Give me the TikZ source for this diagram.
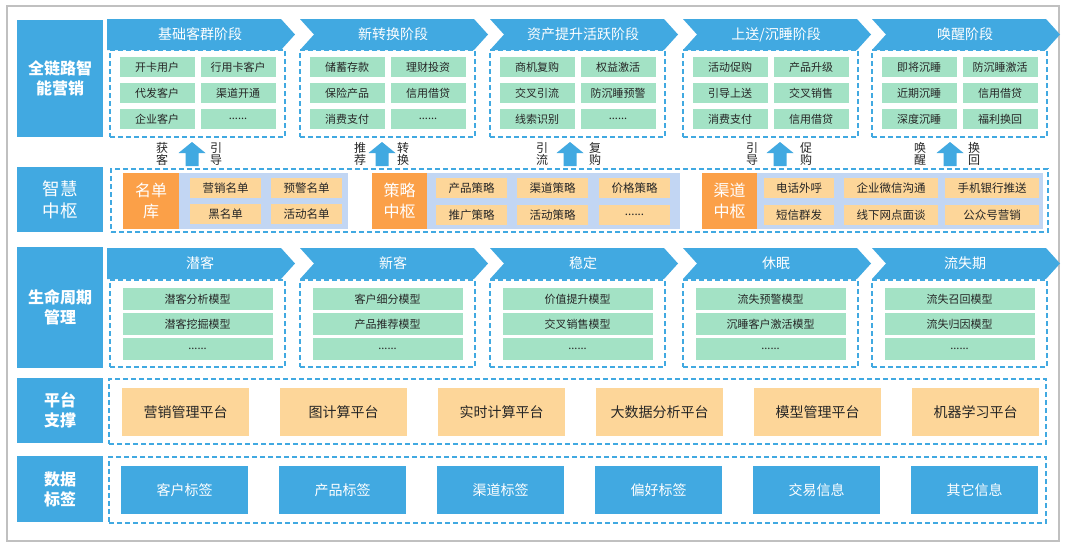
\documentclass[tikz,border=0pt]{standalone}
\usepackage{fontspec}
\setmainfont{Noto Sans CJK SC}
\definecolor{hblue}{RGB}{65,169,225}
\definecolor{cgreen}{RGB}{163,226,197}
\definecolor{cpeach}{RGB}{253,214,153}
\definecolor{corange}{RGB}{251,160,72}
\definecolor{cpanel}{RGB}{194,214,243}
\definecolor{gborder}{RGB}{192,192,192}
\newcommand{\sixdots}{......}
\tikzset{
  every node/.style={inner sep=0pt, outer sep=0pt},
  lbl/.style={fill=hblue, text=white, font=\fontsize{16}{20}\selectfont\bfseries, align=center},
  lblr/.style={fill=hblue, text=white, font=\fontsize{17.5}{22}\selectfont, align=center},
  htext/.style={text=white, font=\fontsize{14}{16}\selectfont},
  dbox/.style={draw=hblue, line width=1.8pt, dash pattern=on 5pt off 3pt},
  gcell/.style={fill=cgreen, text=black!85, font=\fontsize{11}{13}\selectfont},
  pcell/.style={fill=cpeach, text=black!85, font=\fontsize{11.5}{13}\selectfont},
  ocell/.style={fill=corange, text=white, font=\fontsize{16}{21}\selectfont, align=center},
  panel/.style={fill=cpanel},
  plat/.style={fill=cpeach, text=black!85, font=\fontsize{14}{16}\selectfont},
  tagc/.style={fill=hblue, text=white, font=\fontsize{14}{16}\selectfont},
  albl/.style={text=black!85, font=\fontsize{12}{12.5}\selectfont, align=center},
  uparrow/.style={fill=hblue}
}
% style, name, x, y (top-left), width, height, text
\newcommand{\bx}[7]{\node[#1, anchor=north west, minimum width=#5pt, minimum height=#6pt] (#2) at (#3,#4) {#7};}
% name, x, ytop, notch(0/1), text
\newcommand{\hdr}[5]{%
  \fill[hblue] (#2,#3) -- ++(174,0) -- ++(14,15.5) -- ++(-14,15.5) -- ++(-174,0) -- ++(14*#4,-15.5) -- cycle;
  \node[htext] (#1) at (#2+93,#3+15.5) {#5};}
% name, center x
\newcommand{\uparr}[2]{%
  \coordinate (#1-base) at (#2,166);
  \coordinate (#1-tip) at (#2,142);
  \fill[uparrow] ([xshift=-6.5pt]#1-base) -- ++(0,-13) -- ++(-7,0) -- (#1-tip) -- ++(13.5,11) -- ++(-7,0) -- ([xshift=6.5pt]#1-base) -- cycle;}
\begin{document}
\begin{tikzpicture}[x=1pt,y=-1pt]
\useasboundingbox (0,0) rectangle (1066,547);
\fill[white] (0,0) rectangle (1066,547);
\draw[gborder, line width=2pt] (7,6) rectangle (1059,541);

% ---------- left labels ----------
\bx{lbl}{L1}{17}{20}{86}{117}{全链路智\\能营销}
\bx{lblr}{L2}{17}{167}{86}{65}{智慧\\中枢}
\bx{lbl}{L3}{17}{247}{86}{121}{生命周期\\管理}
\bx{lbl}{L4}{17}{378}{86}{65}{平台\\支撑}
\bx{lbl}{L5}{17}{456}{86}{66}{数据\\标签}

% ---------- row 1: stages ----------
\hdr{h1}{107}{19}{0}{基础客群阶段}
\hdr{h2}{300}{19}{1}{新转换阶段}
\hdr{h3}{490}{19}{1}{资产提升活跃阶段}
\hdr{h4}{683}{19}{1}{上送/沉睡阶段}
\hdr{h5}{872}{19}{1}{唤醒阶段}
\foreach \i/\bxx/\a/\b/\c/\d/\e/\f in {
  1/110/开卡用户/行用卡客户/代发客户/渠道开通/企业客户/\sixdots,
  2/300/储蓄存款/理财投资/保险产品/信用借贷/消费支付/\sixdots,
  3/490/商机复购/权益激活/交叉引流/防沉睡预警/线索识别/\sixdots,
  4/683/活动促购/产品升级/引导上送/交叉销售/消费支付/信用借贷,
  5/872/即将沉睡/防沉睡激活/近期沉睡/信用借贷/深度沉睡/福利换回}{
  \bx{dbox}{s\i}{\bxx}{50}{175}{87}{}
  \bx{gcell}{s\i-a}{\bxx+9.5}{57}{75}{20}{\a}
  \bx{gcell}{s\i-b}{\bxx+90.5}{57}{75}{20}{\b}
  \bx{gcell}{s\i-c}{\bxx+9.5}{83}{75}{20}{\c}
  \bx{gcell}{s\i-d}{\bxx+90.5}{83}{75}{20}{\d}
  \bx{gcell}{s\i-e}{\bxx+9.5}{109}{75}{20}{\e}
  \bx{gcell}{s\i-f}{\bxx+90.5}{109}{75}{20}{\f}
}

% ---------- arrows between row 1 and row 2 ----------
\uparr{a1}{192}
\uparr{a2}{382}
\uparr{a3}{570}
\uparr{a4}{780}
\uparr{a5}{950}
\node[albl] (t1a) at (162,154) {获\\客};
\node[albl] (t1b) at (216,154) {引\\导};
\node[albl] (t2a) at (360,154) {推\\荐};
\node[albl] (t2b) at (403,154) {转\\换};
\node[albl] (t3a) at (542,154) {引\\流};
\node[albl] (t3b) at (595,154) {复\\购};
\node[albl] (t4a) at (752,154) {引\\导};
\node[albl] (t4b) at (806,154) {促\\购};
\node[albl] (t5a) at (920,154) {唤\\醒};
\node[albl] (t5b) at (974,154) {换\\回};

% ---------- row 2: hub ----------
\bx{dbox}{hub}{111}{169}{937}{63}{}
% 名单库
\bx{panel}{p1}{179}{173}{169}{56}{}
\bx{ocell}{o1}{123}{173}{56}{56}{名单\\库}
\bx{pcell}{n1}{190}{178}{71}{20}{营销名单}
\bx{pcell}{n2}{271}{178}{71}{20}{预警名单}
\bx{pcell}{n3}{190}{204}{71}{20}{黑名单}
\bx{pcell}{n4}{271}{204}{71}{20}{活动名单}
% 策略中枢
\bx{panel}{p2}{427}{173}{253}{56}{}
\bx{ocell}{o2}{372}{173}{55}{56}{策略\\中枢}
\bx{pcell}{m1}{436}{178}{71}{20}{产品策略}
\bx{pcell}{m2}{517}{178}{71}{20}{渠道策略}
\bx{pcell}{m3}{599}{178}{71}{20}{价格策略}
\bx{pcell}{m4}{436}{205}{71}{20}{推广策略}
\bx{pcell}{m5}{517}{205}{71}{20}{活动策略}
\bx{pcell}{m6}{599}{205}{71}{20}{\sixdots}
% 渠道中枢
\bx{panel}{p3}{757}{173}{286}{56}{}
\bx{ocell}{o3}{702}{173}{55}{56}{渠道\\中枢}
\bx{pcell}{k1}{764}{178}{70}{20}{电话外呼}
\bx{pcell}{k2}{844}{178}{94}{20}{企业微信沟通}
\bx{pcell}{k3}{945}{178}{94}{20}{手机银行推送}
\bx{pcell}{k4}{764}{205}{70}{20}{短信群发}
\bx{pcell}{k5}{844}{205}{94}{20}{线下网点面谈}
\bx{pcell}{k6}{945}{205}{94}{20}{公众号营销}

% ---------- row 3: lifecycle ----------
\hdr{g1}{107}{248}{0}{潜客}
\hdr{g2}{300}{248}{1}{新客}
\hdr{g3}{490}{248}{1}{稳定}
\hdr{g4}{683}{248}{1}{休眠}
\hdr{g5}{872}{248}{1}{流失期}
\foreach \i/\bxx/\a/\b in {
  1/110/潜客分析模型/潜客挖掘模型,
  2/300/客户细分模型/产品推荐模型,
  3/490/价值提升模型/交叉销售模型,
  4/683/流失预警模型/沉睡客户激活模型,
  5/872/流失召回模型/流失归因模型}{
  \bx{dbox}{q\i}{\bxx}{280}{175}{87}{}
  \bx{gcell}{q\i-a}{\bxx+12.5}{288}{150}{22}{\a}
  \bx{gcell}{q\i-b}{\bxx+12.5}{313}{150}{22}{\b}
  \bx{gcell}{q\i-c}{\bxx+12.5}{338}{150}{22}{\sixdots}
}

% ---------- row 4: platforms ----------
\bx{dbox}{plt}{109}{379}{937}{65}{}
\foreach \i/\t in {0/营销管理平台,1/图计算平台,2/实时计算平台,3/大数据分析平台,4/模型管理平台,5/机器学习平台}{
  \bx{plat}{pf\i}{122+158*\i}{388}{127}{48}{\t}
}

% ---------- row 5: data tags ----------
\bx{dbox}{dat}{109}{457}{937}{66}{}
\foreach \i/\t in {0/客户标签,1/产品标签,2/渠道标签,3/偏好标签,4/交易信息,5/其它信息}{
  \bx{tagc}{tg\i}{121+158*\i}{466}{127}{48}{\t}
}
\end{tikzpicture}
\end{document}
